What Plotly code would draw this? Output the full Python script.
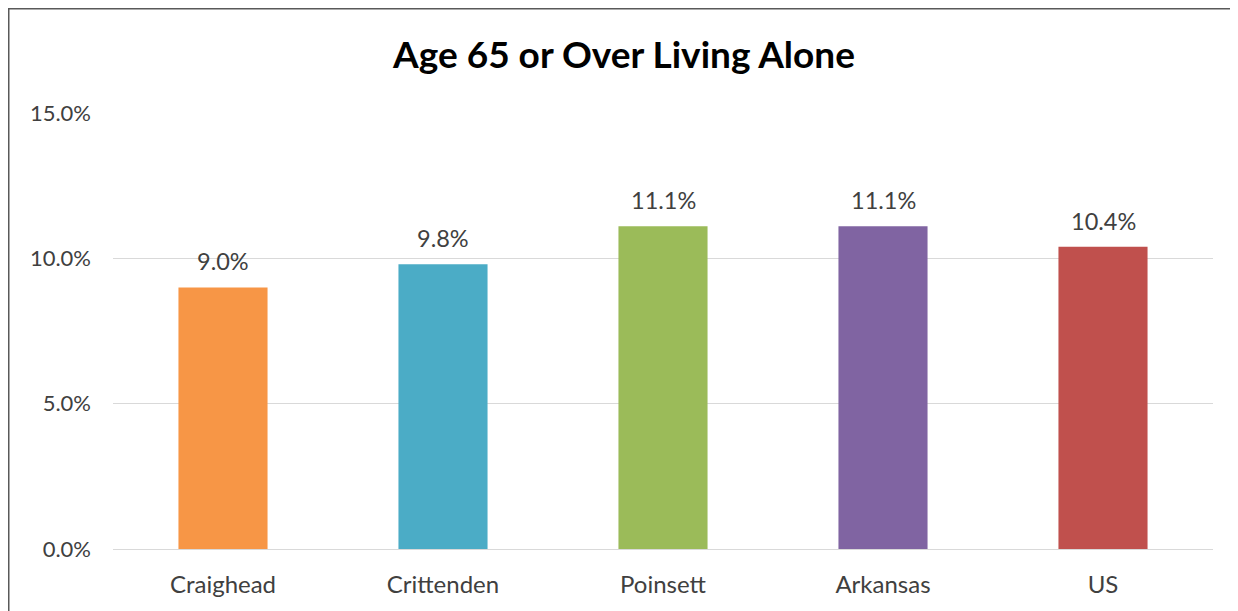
import plotly.graph_objects as go

counties = ['Craighead', 'Crittenden', 'Poinsett', 'Arkansas', 'US']
pct_alone = [0.090, 0.098, 0.111, 0.111, 0.104]
bar_colors = ['#F79646', '#4BACC6', '#9BBB59', '#8064A2', '#C0504D']
y_ticks = [0, 0.05, 0.10, 0.15]

FONT = 'Lato'
TXT = '#404040'

# the page body adds an 8px offset, so the figure is 8px smaller than the window
W, H = 1230, 603
L, R, T, B = 105, 25, 105, 62
pw, ph = W - L - R, H - T - B

fig = go.Figure()
fig.add_trace(go.Bar(x=counties, y=pct_alone, marker=dict(color=bar_colors, line=dict(width=0)),
                     width=0.405, hoverinfo='x+y'))

# data labels above the bars
for c, v in zip(counties, pct_alone):
    fig.add_annotation(x=c, y=v, text=f'{v * 100:.1f}%', showarrow=False, yanchor='middle', yshift=26,
                       font=dict(family=FONT, size=23.5, color=TXT))

fig.update_layout(
    width=W, height=H,
    margin=dict(l=L, r=R, t=T, b=B),
    paper_bgcolor='white', plot_bgcolor='white',
    showlegend=False,
    title=dict(text='<b>Age 65 or Over Living Alone</b>', x=(624 - 8) / W, xref='container', xanchor='center',
               y=1 - 47 / H, yref='container', yanchor='middle',
               font=dict(family=FONT, size=37, color='black')),
    font=dict(family=FONT, size=23, color=TXT),
)
fig.update_yaxes(range=[0, 0.15], tickvals=y_ticks, tickformat='.1%', showgrid=True, gridcolor='#D9D9D9',
                 gridwidth=1, zeroline=False, showline=False, ticks='', ticklabelstandoff=21,
                 tickfont=dict(family=FONT, size=22, color=TXT))
fig.update_xaxes(showline=True, linecolor='#D9D9D9', linewidth=1, ticks='', ticklabelstandoff=14,
                 tickfont=dict(family=FONT, size=24, color=TXT))

# chart frame (left and top edges visible in the reference)
fx = -L / pw
fy = 1 + T / ph
fig.add_shape(type='line', xref='paper', yref='paper', x0=fx, x1=fx, y0=-0.3, y1=fy,
              line=dict(color='#595959', width=3))
fig.add_shape(type='line', xref='paper', yref='paper', x0=fx, x1=1.1, y0=fy, y1=fy,
              line=dict(color='#595959', width=3))

fig.write_html('out.html', config={'displayModeBar': False})
